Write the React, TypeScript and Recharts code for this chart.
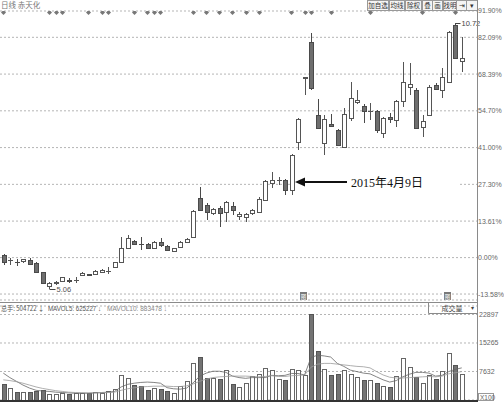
import React from "react";
import { ComposedChart, Bar, Line, Scatter, XAxis, YAxis, CartesianGrid } from "recharts";

// price the percent scale is measured from
const BASE = 5.72;
const pctTicks = [91.9, 82.09, 68.39, 54.7, 41.0, 27.3, 13.61, 0, -13.58];
const volTicks = [7632, 15265, 22897];

const opens = [
  5.77, 5.66, 5.63, 5.65, 5.67, 5.6, 5.41, 5.11, 5.18, 5.22,
  5.25, 5.24, 5.35, 5.36, 5.37, 5.42, 5.43, 5.52, 5.63, 5.92,
  6.07, 6.02, 6.01, 5.92, 6.05, 5.96, 5.86, 5.94, 6.05, 6.16,
  6.99, 6.84, 6.67, 6.78, 6.69, 6.82, 6.61, 6.58, 6.67, 6.69,
  6.95, 7.31, 7.37, 7.37, 7.16, 8.18, 9.55, 10.31, 8.76, 8.16,
  8.57, 8.44, 8.08, 8.69, 9.04, 8.95, 8.84, 8.84, 8.37, 8.72,
  8.65, 9.06, 9.36, 9.29, 8.5, 8.76, 9.4, 9.29, 9.46, 10.68,
  9.91,
];
const highs = [
  5.8, 5.71, 5.69, 5.7, 5.71, 5.62, 5.42, 5.19, 5.22, 5.31,
  5.29, 5.3, 5.41, 5.38, 5.45, 5.47, 5.52, 5.63, 6.16, 6.2,
  6.09, 6.16, 6.03, 6.07, 6.14, 5.99, 5.92, 6.07, 6.14, 6.73,
  7.22, 6.88, 6.78, 6.82, 6.93, 6.9, 6.69, 6.67, 6.75, 7.01,
  7.37, 7.54, 7.43, 7.39, 7.93, 8.69, 9.57, 10.51, 9.1, 8.76,
  8.78, 8.46, 8.91, 9.46, 9.29, 8.99, 9.01, 8.86, 8.72, 8.8,
  9.08, 9.89, 9.87, 9.33, 8.76, 9.4, 9.44, 9.76, 10.55, 10.72,
  10.42,
];
const lows = [
  5.56, 5.56, 5.54, 5.6, 5.57, 5.4, 5.17, 5.06, 5.13, 5.2,
  5.18, 5.18, 5.32, 5.33, 5.35, 5.4, 5.37, 5.5, 5.6, 5.9,
  5.99, 5.88, 5.9, 5.9, 5.94, 5.86, 5.84, 5.92, 6.03, 6.14,
  6.71, 6.52, 6.62, 6.37, 6.48, 6.63, 6.52, 6.48, 6.63, 6.67,
  6.93, 7.2, 7.27, 7.05, 7.05, 8.01, 9.18, 9.29, 8.46, 7.91,
  8.5, 8.1, 8.06, 8.63, 9.0, 8.59, 8.65, 8.38, 8.27, 8.59,
  8.5, 8.93, 9.18, 8.46, 8.29, 8.74, 9.29, 9.12, 9.44, 9.95,
  9.67,
];
const closes = [
  5.62, 5.67, 5.62, 5.69, 5.58, 5.41, 5.18, 5.18, 5.19, 5.3,
  5.23, 5.25, 5.39, 5.34, 5.43, 5.45, 5.44, 5.62, 5.92, 6.14,
  6.01, 6.01, 5.92, 6.05, 5.99, 5.88, 5.92, 6.05, 6.11, 6.71,
  6.73, 6.69, 6.75, 6.67, 6.9, 6.73, 6.65, 6.65, 6.73, 6.97,
  7.35, 7.37, 7.38, 7.16, 7.91, 8.67, 9.57, 9.33, 8.48, 8.67,
  8.52, 8.12, 8.78, 9.12, 9.08, 8.84, 8.85, 8.44, 8.69, 8.67,
  9.06, 9.46, 9.42, 8.48, 8.63, 9.36, 9.31, 9.57, 10.53, 9.97,
  9.97,
];
// volume, in units of 100 lots
const volumes = [
  4280, 3200, 2140, 2140, 2140, 2400, 2680, 1600, 1500, 1870,
  1600, 1900, 1900, 1800, 2100, 1900, 2400, 2900, 6700, 5900,
  4000, 3700, 2700, 3200, 2900, 2400, 1800, 3800, 5000, 9900,
  11500, 5900, 5900, 5700, 8000, 4300, 3500, 4500, 6400, 7000,
  8600, 8000, 5600, 5400, 8300, 8000, 6700, 22897, 13100, 8300,
  6700, 7000, 8000, 7000, 6200, 5400, 5400, 4500, 3800, 3400,
  6400, 11200, 8800, 6200, 4600, 6700, 5600, 7700, 12600, 9400,
  7000,
];
const mavol5 = [
  7200, 6000, 5000, 4000, 3200, 2600, 2400, 2300, 2100, 2000,
  1900, 1800, 1800, 1800, 1900, 2000, 2100, 2300, 3500, 4200,
  4500, 4700, 4800, 4700, 4500, 3300, 3000, 2900, 3200, 4600,
  6400, 7200, 7700, 7700, 7400, 6400, 6000, 5800, 6000, 6000,
  6000, 6600, 6500, 6600, 7100, 7100, 6700, 11400, 12000, 11800,
  11500, 9800, 9000, 8000, 7600, 7200, 7000, 6200, 5400, 4800,
  5200, 6200, 6900, 7400, 7400, 7200, 6400, 6600, 7600, 8200,
  8600,
];
const mavol10 = [
  5400, 5200, 4900, 4500, 4000, 3500, 3100, 2800, 2500, 2300,
  2100, 2000, 1950, 1900, 1900, 1950, 2000, 2100, 2600, 3000,
  3300, 3500, 3600, 3700, 3700, 3700, 3600, 3600, 3800, 4300,
  5000, 5600, 6000, 6200, 6300, 6400, 6400, 6400, 6300, 6200,
  6300, 6500, 6300, 6300, 6500, 6600, 6700, 8800, 9600, 9800,
  9800, 9600, 9400, 9200, 9000, 8900, 8600, 7600, 6700, 6100,
  5900, 5900, 6000, 6100, 6200, 6300, 6200, 6400, 7000, 7300,
  7600,
];
// days that carry an info marker on the top line
const markDays = [0, 7, 8, 9, 13, 15, 16, 20, 22, 23, 24, 29, 31, 33, 35, 37, 39, 44, 46, 47, 50, 56, 64, 69];
const dayLabels = opens.map((_, i) => String(i + 1));

const priceTicks = pctTicks.map((p) => BASE * (1 + p / 100));
const topPrice = priceTicks[0];
const bottomPrice = BASE * (1 - 15.8 / 100);

const rows = opens.map((o, i) => ({
  day: dayLabels[i],
  open: o,
  high: highs[i],
  low: lows[i],
  close: closes[i],
  vol: volumes[i],
  ma5: mavol5[i],
  ma10: mavol10[i],
  mark: markDays.includes(i) ? topPrice : null,
}));

const maxIdx = highs.indexOf(Math.max(...highs));
const minIdx = lows.indexOf(Math.min(...lows));

const pctLabel = (v: number) => {
  let best = 0;
  priceTicks.forEach((t, i) => {
    if (Math.abs(t - v) < Math.abs(priceTicks[best] - v)) best = i;
  });
  return pctTicks[best].toFixed(2) + "%";
};

const AXIS_FONT = '"Liberation Sans", Arial, sans-serif';
const CJK_FONT = '"Noto Sans CJK SC", "Liberation Sans", sans-serif';

const Candle = (props: any) => {
  const { x, y, width, height, payload, index } = props;
  const { open, close, high, low } = payload;
  const top = Math.min(y, y + height);
  const bot = Math.max(y, y + height);
  const span = high - low || 1;
  const py = (v: number) => top + ((high - v) / span) * (bot - top);
  const cx = Math.round(x + width / 2) + 0.5;
  const up = close >= open;
  const bTop = Math.round(py(Math.max(open, close)));
  const bBot = Math.round(py(Math.min(open, close)));
  const stroke = up ? "#555" : "#4a4a4a";
  return (
    <g>
      <line x1={cx} x2={cx} y1={Math.round(py(high))} y2={bTop} stroke={stroke} strokeWidth={1} />
      <line x1={cx} x2={cx} y1={bBot} y2={Math.round(py(low))} stroke={stroke} strokeWidth={1} />
      {bBot - bTop < 1 ? (
        <line x1={cx - 2.5} x2={cx + 2.5} y1={bTop + 0.5} y2={bTop + 0.5} stroke={stroke} strokeWidth={1} />
      ) : (
        <rect x={cx - 2} y={bTop + 0.5} width={4} height={bBot - bTop} fill={up ? "#fff" : "#6e6e6e"} stroke={stroke} strokeWidth={1} />
      )}
      {index === maxIdx && (
        <g>
          <line x1={cx} x2={cx + 5} y1={Math.round(py(high)) + 0.5} y2={Math.round(py(high)) + 0.5} stroke="#444" />
          <text x={cx + 6} y={py(high) + 3} fontSize={7.5} fill="#444" fontFamily={AXIS_FONT}>
            {high.toFixed(2)}
          </text>
        </g>
      )}
      {index === minIdx && (
        <g>
          <line x1={cx} x2={cx + 6} y1={Math.round(py(low)) + 0.5} y2={Math.round(py(low)) + 0.5} stroke="#444" />
          <text x={cx + 7} y={py(low) + 3} fontSize={7.5} fill="#555" fontFamily={AXIS_FONT}>
            {low.toFixed(2)}
          </text>
        </g>
      )}
    </g>
  );
};

const VolBar = (props: any) => {
  const { x, y, width, height, payload } = props;
  const up = payload.close >= payload.open;
  const cx = Math.round(x + width / 2) + 0.5;
  const t = Math.round(y);
  const b = Math.round(y + height);
  return (
    <rect x={cx - 2} y={t + 0.5} width={4} height={b - t} fill={up ? "#fff" : "#737373"} stroke={up ? "#666" : "#555"} strokeWidth={1} />
  );
};

const Diamond = (props: any) => {
  const { cx, cy, payload } = props;
  if (payload.mark == null || !isFinite(cy)) return <g />;
  const c = Math.round(cx) + 0.5;
  const m = Math.round(cy) + 1.5;
  return <polygon points={`${c},${m - 2.5} ${c + 2.5},${m} ${c},${m + 2.5} ${c - 2.5},${m}`} fill="#777" />;
};

const toolbar = [
  { t: "加自选", x: 367, w: 21 },
  { t: "均线", x: 389, w: 15 },
  { t: "除权", x: 405, w: 16 },
  { t: "叠", x: 422, w: 10 },
  { t: "画", x: 432, w: 10 },
  { t: "找明", x: 443, w: 13 },
  { t: "⇥", x: 456, w: 10 },
  { t: "▾", x: 466, w: 11 },
];

export default function App() {
  return (
    <div style={{ position: "absolute", left: 0, top: 0, width: 504, height: 402, background: "#fff", overflow: "hidden" }}>
      <div style={{ position: "absolute", left: 0, top: 0 }}>
        <ComposedChart width={504} height={301} data={rows} margin={{ top: 11, right: 0, bottom: 1, left: 0 }} barCategoryGap={1}>
          <CartesianGrid horizontal vertical={false} stroke="#b5b5b5" strokeDasharray="2 2" />
          <XAxis dataKey="day" hide padding={{ left: 0, right: 12 }} />
          <YAxis
            orientation="right"
            width={27}
            domain={[bottomPrice, topPrice]}
            allowDataOverflow
            ticks={priceTicks}
            interval={0}
            tickFormatter={pctLabel}
            tickLine={false}
            tickSize={0}
            tickMargin={1}
            axisLine={false}
            tick={{ fontSize: 7, fill: "#666", fontFamily: AXIS_FONT }}
          />
          <Scatter dataKey="mark" shape={<Diamond />} isAnimationActive={false} />
          <Bar dataKey={(d: any) => [d.low, d.high]} barSize={5} shape={<Candle />} isAnimationActive={false} />
        </ComposedChart>
      </div>
      <div style={{ position: "absolute", left: 0, top: 303 }}>
        <ComposedChart width={504} height={99} data={rows} margin={{ top: 3, right: 0, bottom: 2, left: 0 }} barCategoryGap={1}>
          <CartesianGrid horizontal vertical={false} stroke="#b5b5b5" strokeDasharray="2 2" />
          <XAxis dataKey="day" hide padding={{ left: 0, right: 12 }} />
          <YAxis
            orientation="right"
            width={27}
            domain={[0, 25170]}
            allowDataOverflow
            ticks={volTicks}
            interval={0}
            tickLine={false}
            tickSize={0}
            tickMargin={2}
            axisLine={false}
            tick={{ fontSize: 7, fill: "#666", fontFamily: AXIS_FONT }}
          />
          <Bar dataKey="vol" barSize={5} shape={<VolBar />} isAnimationActive={false} />
          <Line dataKey="ma5" type="linear" stroke="#666" strokeWidth={0.8} dot={false} isAnimationActive={false} />
          <Line dataKey="ma10" type="linear" stroke="#9a9a9a" strokeWidth={0.8} dot={false} isAnimationActive={false} />
        </ComposedChart>
      </div>
      <svg width={504} height={402} style={{ position: "absolute", left: 0, top: 0, pointerEvents: "none" }}>
        <text x={1} y={8} fontSize={7.5} fill="#777" fontFamily={CJK_FONT}>
          日线  赤天化
        </text>
        {toolbar.map((b) => (
          <g key={b.t}>
            <rect x={b.x + 0.5} y={0.5} width={b.w} height={10} fill="#f4f4f4" stroke="#999" />
            <text x={b.x + b.w / 2 + 0.5} y={8} fontSize={6.5} fill="#333" textAnchor="middle" fontFamily={CJK_FONT}>
              {b.t}
            </text>
          </g>
        ))}
        {/* annotation */}
        <rect x={296} y={177} width={164} height={14} fill="#fff" />
        <line x1={303} x2={347} y1={182} y2={182} stroke="#111" strokeWidth={2} />
        <polygon points="295,182 305,177.5 305,186.5" fill="#111" />
        <text x={351} y={187} fontSize={12} fill="#111" fontFamily='"Liberation Serif", "Noto Sans CJK SC", serif'>
          2015年4月9日
        </text>
        {/* event icons */}
        <rect x={300} y={292} width={7} height={8} fill="#7a7a7a" />
        <text x={303.5} y={298.5} fontSize={5.5} fill="#fff" textAnchor="middle" fontFamily={CJK_FONT}>图</text>
        <rect x={444} y={292} width={7} height={8} fill="#7a7a7a" />
        <text x={447.5} y={298.5} fontSize={5.5} fill="#fff" textAnchor="middle" fontFamily={CJK_FONT}>图</text>
        {/* panel frame */}
        <line x1={0} x2={477} y1={302.5} y2={302.5} stroke="#8a8a8a" />
        <line x1={477.5} x2={477.5} y1={0} y2={402} stroke="#8a8a8a" />
        <rect x={0} y={400} width={478} height={2} fill="#333" />
        <text x={1} y={311} fontSize={7} fill="#555" fontFamily={CJK_FONT} textLength={43} lengthAdjust="spacingAndGlyphs">
          总手: 504722 ↓
        </text>
        <text x={48} y={311} fontSize={7} fill="#555" fontFamily={AXIS_FONT} textLength={53} lengthAdjust="spacingAndGlyphs">
          MAVOL5: 625227 ↓
        </text>
        <text x={107} y={311} fontSize={7} fill="#888" fontFamily={AXIS_FONT} textLength={60} lengthAdjust="spacingAndGlyphs">
          MAVOL10: 883478 ↓
        </text>
        <line x1={428.5} x2={428.5} y1={303} y2={313.5} stroke="#8a8a8a" />
        <line x1={428.5} x2={477} y1={313.5} y2={313.5} stroke="#8a8a8a" />
        <text x={452} y={311} fontSize={7} fill="#444" textAnchor="middle" fontFamily={CJK_FONT}>
          成交量
        </text>
        <text x={472} y={310} fontSize={6} fill="#444" textAnchor="middle" fontFamily={AXIS_FONT}>
          ▾
        </text>
        <rect x={478.5} y={393.5} width={15} height={7} fill="#fff" stroke="#999" />
        <text x={480} y={399.5} fontSize={6.5} fill="#666" fontFamily={AXIS_FONT}>
          X100
        </text>
      </svg>
    </div>
  );
}
